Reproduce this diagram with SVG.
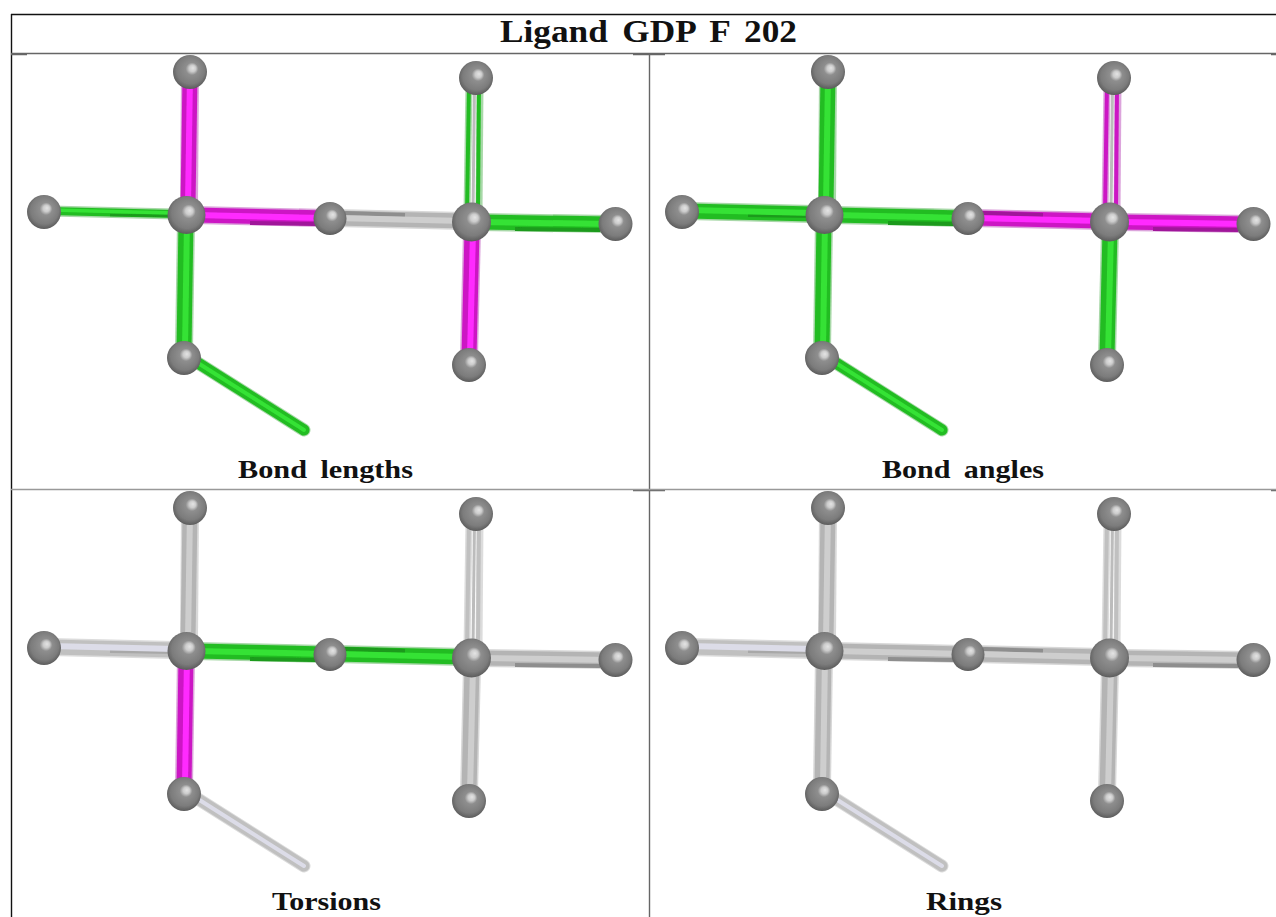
<svg xmlns="http://www.w3.org/2000/svg" xmlns:xlink="http://www.w3.org/1999/xlink" width="1276" height="917" viewBox="0 0 1276 917">
<style>
text{font-family:"Liberation Serif",serif;font-weight:bold;fill:#111;text-anchor:start;word-spacing:5px}
.rule{fill:none;stroke-width:1.4}
line{fill:none;stroke-linecap:var(--cap,butt)}
.h{stroke:var(--h);stroke-width:var(--wh,18)}
.o{stroke:var(--o);stroke-width:var(--wo,15)}
.s{stroke:var(--s);stroke-width:var(--ws,4)}
.c{stroke:var(--c);stroke-width:var(--wc,6)}
.m{--h:#dca4dc;--o:#cc16c4;--s:#a0189a;--c:#ff2cff}
.g{--h:#a8d8a8;--o:#22bc22;--s:#1a9a1a;--c:#34e234}
.n{--h:#d8d8d8;--o:#b4b4b4;--s:#8e8e8e;--c:#cecece}
.l{--h:#dcdcdc;--o:#c0c0c0;--s:#a8a8a8;--c:#dcdce8}
.t{--wh:11;--wo:8;--ws:2.5;--wc:3.5}
.u{--wh:13;--wo:11;--ws:3;--wc:4;--cap:round}
.atom{fill:url(#ball);stroke:none}
.soft{filter:url(#soft)}
</style>
<defs>
<filter id="soft" x="-5%" y="-5%" width="110%" height="110%"><feGaussianBlur stdDeviation="0.75"/></filter>
<radialGradient id="ball" cx="50%" cy="46%" r="54%" fx="59%" fy="38%">
<stop offset="0" stop-color="#e4e4e4"/>
<stop offset=".18" stop-color="#cccccc"/>
<stop offset=".34" stop-color="#8e8e8e"/>
<stop offset=".76" stop-color="#7c7c7c"/>
<stop offset="1" stop-color="#5c5c5c"/>
</radialGradient>
<g id="b-top"><line class="h" x1="190" y1="75" x2="189" y2="205"/><line class="o" x1="190" y1="75" x2="188" y2="205"/><line class="c" x1="190" y1="75" x2="188" y2="205"/></g>
<g id="b-left"><line class="h" x1="50" y1="211" x2="175" y2="214"/><line class="o" x1="50" y1="211" x2="175" y2="214"/><line class="s" x1="110" y1="215" x2="175" y2="216"/><line class="c" x1="50" y1="210" x2="175" y2="213"/></g>
<g id="b-lower"><line class="h" x1="186" y1="220" x2="184" y2="350"/><line class="o" x1="186" y1="220" x2="184" y2="350"/><line class="c" x1="187" y1="220" x2="185" y2="350"/></g>
<g id="b-cm"><line class="h" x1="195" y1="215" x2="325" y2="218"/><line class="o" x1="195" y1="215" x2="325" y2="218"/><line class="s" x1="250" y1="223" x2="316" y2="224"/><line class="c" x1="195" y1="215" x2="325" y2="218"/></g>
<g id="b-mr"><line class="h" x1="335" y1="218" x2="465" y2="221"/><line class="o" x1="335" y1="218" x2="465" y2="221"/><line class="s" x1="345" y1="213" x2="405" y2="215"/><line class="c" x1="335" y1="218" x2="465" y2="221"/></g>
<g id="b-rr"><line class="h" x1="480" y1="222" x2="610" y2="224"/><line class="o" x1="480" y1="222" x2="610" y2="224"/><line class="s" x1="515" y1="229" x2="600" y2="230"/><line class="c" x1="480" y1="222" x2="610" y2="224"/></g>
<g id="b-rl"><line class="h" x1="472" y1="230" x2="469" y2="357"/><line class="o" x1="472" y1="230" x2="469" y2="357"/><line class="c" x1="473" y1="230" x2="470" y2="357"/></g>
<g id="b-tr"><line class="h" x1="469" y1="85" x2="467" y2="212" style="stroke-width:7"/><line class="h" x1="480" y1="85" x2="479" y2="212" style="stroke-width:7"/><line x1="474.500" y1="85" x2="473" y2="212" stroke="#bcbcbc" stroke-width="3"/><line class="o" x1="469" y1="85" x2="467" y2="212" style="stroke-width:4"/><line class="o" x1="479" y1="85" x2="478" y2="212" style="stroke-width:4"/></g>
<g id="b-tail"><line class="h" x1="190" y1="358" x2="304" y2="430"/><line class="o" x1="190" y1="358" x2="304" y2="430"/><line class="c" x1="190" y1="358" x2="304" y2="430"/></g>
<circle id="a-top" class="atom" cx="190" cy="72" r="17"/>
<circle id="a-left" class="atom" cx="44" cy="212" r="17"/>
<circle id="a-c" class="atom" cx="186.500" cy="215" r="19"/>
<circle id="a-m" class="atom" cx="330" cy="218.500" r="16.500"/>
<circle id="a-r" class="atom" cx="471.500" cy="222" r="19.500"/>
<circle id="a-tr" class="atom" cx="476" cy="78" r="17"/>
<circle id="a-rr" class="atom" cx="615.500" cy="224" r="17"/>
<circle id="a-lo" class="atom" cx="184" cy="358" r="17"/>
<circle id="a-rl" class="atom" cx="469" cy="365" r="17"/>
</defs>

<g id="table">
<path class="rule" stroke="#111" d="M11 14.500H1276M11.500 14V917"/>
<path class="rule" stroke="#666" d="M11 53.500H1276M649.500 53V917M11 54.500H27M633 54.500H665M1271 54.500H1276M633 490.500H665M1271 490.500H1276"/>
<path class="rule" stroke="#999" d="M11 489.500H1276"/>
<text x="500" y="42" font-size="31" textLength="297" lengthAdjust="spacingAndGlyphs">Ligand GDP F 202</text>
<text x="238" y="478" font-size="26" textLength="175" lengthAdjust="spacingAndGlyphs">Bond lengths</text>
<text x="882" y="478" font-size="26" textLength="162" lengthAdjust="spacingAndGlyphs">Bond angles</text>
<text x="272" y="910" font-size="26" textLength="109" lengthAdjust="spacingAndGlyphs">Torsions</text>
<text x="926" y="910" font-size="26" textLength="76" lengthAdjust="spacingAndGlyphs">Rings</text>
</g>

<g id="connectors" class="soft">
<g id="connectors-lengths">
<use href="#b-top" class="m"/><use href="#b-left" class="g t"/><use href="#b-lower" class="g"/><use href="#b-cm" class="m"/><use href="#b-mr" class="n"/><use href="#b-rr" class="g"/><use href="#b-rl" class="m"/><use href="#b-tr" class="g"/><use href="#b-tail" class="g u"/>
</g>
<g id="connectors-angles" transform="translate(638,0)">
<use href="#b-top" class="g"/><use href="#b-left" class="g"/><use href="#b-lower" class="g"/><use href="#b-cm" class="g"/><use href="#b-mr" class="m"/><use href="#b-rr" class="m"/><use href="#b-rl" class="g"/><use href="#b-tr" class="m"/><use href="#b-tail" class="g u"/>
</g>
<g id="connectors-torsions" transform="translate(0,436)">
<use href="#b-top" class="n"/><use href="#b-left" class="l"/><use href="#b-lower" class="m"/><use href="#b-cm" class="g"/><use href="#b-mr" class="g"/><use href="#b-rr" class="n"/><use href="#b-rl" class="n"/><use href="#b-tr" class="l"/><use href="#b-tail" class="l u"/>
</g>
<g id="connectors-rings" transform="translate(638,436)">
<use href="#b-top" class="n"/><use href="#b-left" class="l"/><use href="#b-lower" class="n"/><use href="#b-cm" class="n"/><use href="#b-mr" class="n"/><use href="#b-rr" class="n"/><use href="#b-rl" class="n"/><use href="#b-tr" class="l"/><use href="#b-tail" class="l u"/>
</g>
</g>

<g id="nodes-lengths" class="soft">
<g id="p1-top"><use href="#a-top"/></g><g id="p1-left"><use href="#a-left"/></g><g id="p1-centre"><use href="#a-c"/></g><g id="p1-mid"><use href="#a-m"/></g><g id="p1-right"><use href="#a-r"/></g><g id="p1-right-top"><use href="#a-tr"/></g><g id="p1-far"><use href="#a-rr"/></g><g id="p1-low"><use href="#a-lo"/></g><g id="p1-right-low"><use href="#a-rl"/></g>
</g>
<g id="nodes-angles" class="soft" transform="translate(638,0)">
<g id="p2-top"><use href="#a-top"/></g><g id="p2-left"><use href="#a-left"/></g><g id="p2-centre"><use href="#a-c"/></g><g id="p2-mid"><use href="#a-m"/></g><g id="p2-right"><use href="#a-r"/></g><g id="p2-right-top"><use href="#a-tr"/></g><g id="p2-far"><use href="#a-rr"/></g><g id="p2-low"><use href="#a-lo"/></g><g id="p2-right-low"><use href="#a-rl"/></g>
</g>
<g id="nodes-torsions" class="soft" transform="translate(0,436)">
<g id="p3-top"><use href="#a-top"/></g><g id="p3-left"><use href="#a-left"/></g><g id="p3-centre"><use href="#a-c"/></g><g id="p3-mid"><use href="#a-m"/></g><g id="p3-right"><use href="#a-r"/></g><g id="p3-right-top"><use href="#a-tr"/></g><g id="p3-far"><use href="#a-rr"/></g><g id="p3-low"><use href="#a-lo"/></g><g id="p3-right-low"><use href="#a-rl"/></g>
</g>
<g id="nodes-rings" class="soft" transform="translate(638,436)">
<g id="p4-top"><use href="#a-top"/></g><g id="p4-left"><use href="#a-left"/></g><g id="p4-centre"><use href="#a-c"/></g><g id="p4-mid"><use href="#a-m"/></g><g id="p4-right"><use href="#a-r"/></g><g id="p4-right-top"><use href="#a-tr"/></g><g id="p4-far"><use href="#a-rr"/></g><g id="p4-low"><use href="#a-lo"/></g><g id="p4-right-low"><use href="#a-rl"/></g>
</g>
</svg>
